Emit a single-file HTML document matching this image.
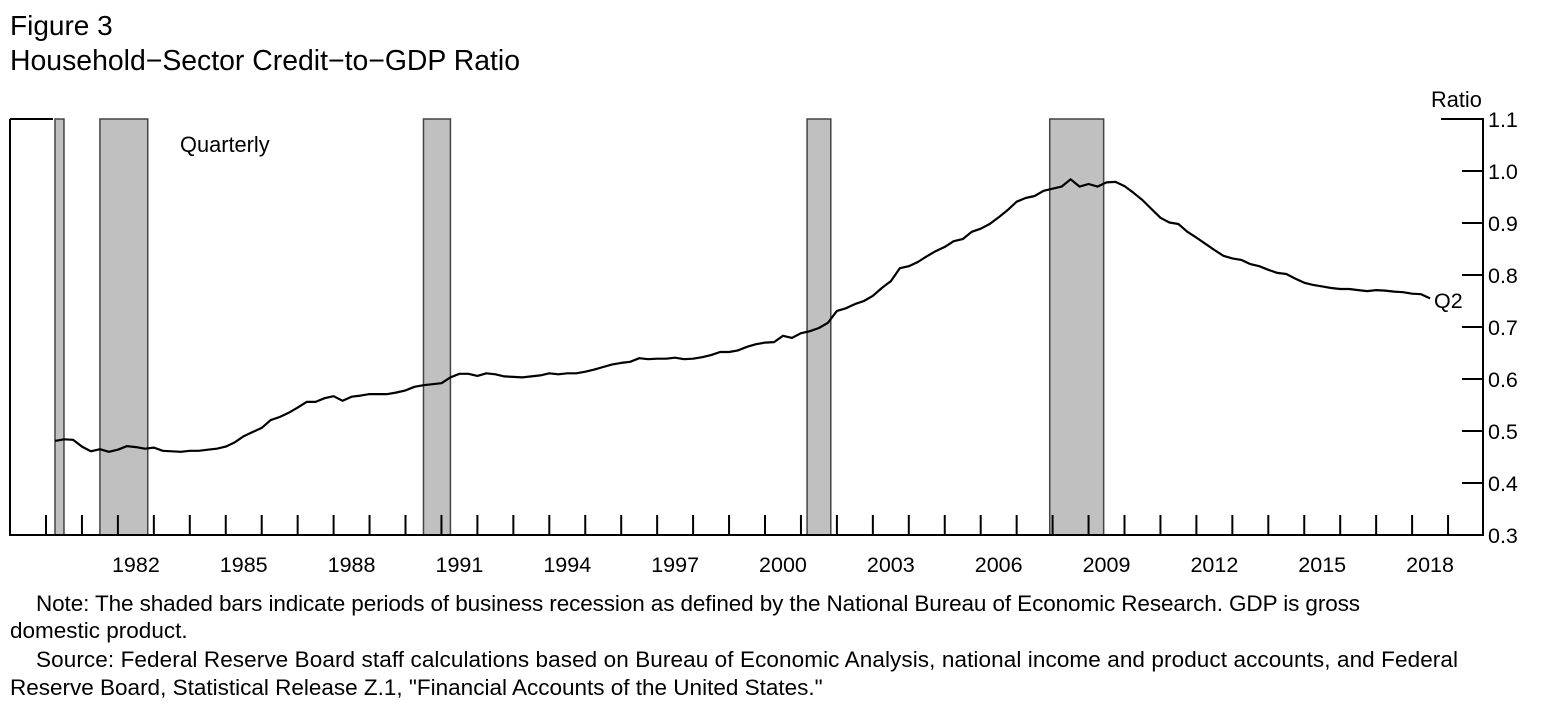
<!DOCTYPE html>
<html><head><meta charset="utf-8"><style>
html,body{margin:0;padding:0;background:#fff;width:1546px;height:713px;overflow:hidden}
svg{display:block;font-family:"Liberation Sans",Arial,sans-serif}
</style></head><body>
<svg id="chart" width="1546" height="713" viewBox="0 0 1546 713">
<text x="10" y="35" font-size="28">Figure 3</text>
<text x="10" y="70" font-size="28.4">Household−Sector Credit−to−GDP Ratio</text>
<text x="1431" y="107" font-size="21.8">Ratio</text>
<text x="180" y="152" font-size="21.8">Quarterly</text>
<g id="rec"></g>
<g id="axes"></g>
<g id="series"></g>
<text x="1434" y="308" font-size="21.5">Q2</text>
<g font-size="22.5">
<text x="36" y="611" textLength="1324">Note: The shaded bars indicate periods of business recession as defined by the National Bureau of Economic Research. GDP is gross</text>
<text x="10" y="638">domestic product.</text>
<text x="36" y="667" textLength="1422">Source: Federal Reserve Board staff calculations based on Bureau of Economic Analysis, national income and product accounts, and Federal</text>
<text x="10" y="695">Reserve Board, Statistical Release Z.1, "Financial Accounts of the United States."</text>
</g>
</svg>
<script>
const startYear = 1980;
const values = [
.481,.484,.483,.470, .461,.465,.460,.464, .471,.469,.466,.468, .462,.461,.460,.462,
.462,.464,.466,.470, .478,.490,.498,.506, .521,.527,.535,.545, .556,.556,.563,.567,
.558,.566,.568,.571, .571,.571,.574,.578, .585,.588,.590,.592, .603,.610,.610,.606,
.611,.609,.605,.604, .603,.605,.607,.611, .609,.611,.611,.614, .618,.623,.628,.631,
.633,.640,.638,.639, .639,.641,.638,.639, .642,.646,.652,.652, .655,.662,.667,.670,
.671,.683,.679,.688, .692,.698,.708,.731, .736,.744,.750,.760, .775,.788,.813,.817,
.825,.836,.846,.854, .865,.869,.883,.889, .898,.911,.925,.941, .948,.952,.962,.966,
.970,.984,.970,.975, .970,.978,.979,.971, .958,.944,.927,.910, .901,.898,.883,.872,
.860,.848,.837,.832, .829,.821,.817,.810, .804,.802,.793,.785, .781,.778,.775,.773,
.773,.771,.769,.771, .770,.768,.767,.764, .763,.755];
const recessionStarts = [1980.25,1981.5,1990.5,2001.17,2007.92];
const recessionEnds = [1980.5,1982.83,1991.25,2001.83,2009.42];
const yTicks = [0.3,0.4,0.5,0.6,0.7,0.8,0.9,1.0,1.1];
const yTickLabels = ["0.3","0.4","0.5","0.6","0.7","0.8","0.9","1.0","1.1"];
const xLabelYears = [1982,1985,1988,1991,1994,1997,2000,2003,2006,2009,2012,2015,2018];

const NS="http://www.w3.org/2000/svg";
const L=10,R=1483,T=119,B=535;
const x=t=>46+(t-1980)*35.95;
const y=v=>B-(v-0.3)/0.8*(B-T);
function mk(tag,attrs,parent){const e=document.createElementNS(NS,tag);for(const k in attrs)e.setAttribute(k,attrs[k]);parent.appendChild(e);return e;}
const rec=document.getElementById('rec'),ax=document.getElementById('axes'),se=document.getElementById('series');
recessionStarts.forEach((s,i)=>{
  const r=mk('rect',{x:x(s),y:T,width:x(recessionEnds[i])-x(s),height:B-T,fill:'#c0c0c0',stroke:'#444','stroke-width':1.5},rec);
  
  
});
mk('path',{d:`M${L} ${T}H53M${L} ${T}V${B}H${R}V${T}H1441`,fill:'none',stroke:'#000','stroke-width':2},ax);
for(let yr=1980;yr<=2019;yr++){
  const t=mk('line',{x1:x(yr),x2:x(yr),y1:B-20,y2:B,stroke:'#000','stroke-width':2},ax);
  
  
}
xLabelYears.forEach(yr=>{
  const t=mk('text',{x:x(yr+0.5),y:572,'font-size':21.5,'text-anchor':'middle'},ax);
  t.textContent=yr;
  
  
});
yTicks.forEach((v,i)=>{
  if(i>0&&i<yTicks.length-1){
    const l=mk('line',{x1:R-21,x2:R,y1:y(v),y2:y(v),stroke:'#000','stroke-width':2},ax);
    
    
  }
  const t=mk('text',{x:1488,y:y(v)+8,'font-size':21.5},ax);
  t.textContent=yTickLabels[i];
  
  
});
const pts=values.map((v,i)=>`${x(startYear+(i+1)/4).toFixed(1)},${y(v).toFixed(1)}`).join(' ');
const pl=mk('polyline',{points:pts,fill:'none',stroke:'#000','stroke-width':2.2,'stroke-linejoin':'round'},se);


</script>
</body></html>
